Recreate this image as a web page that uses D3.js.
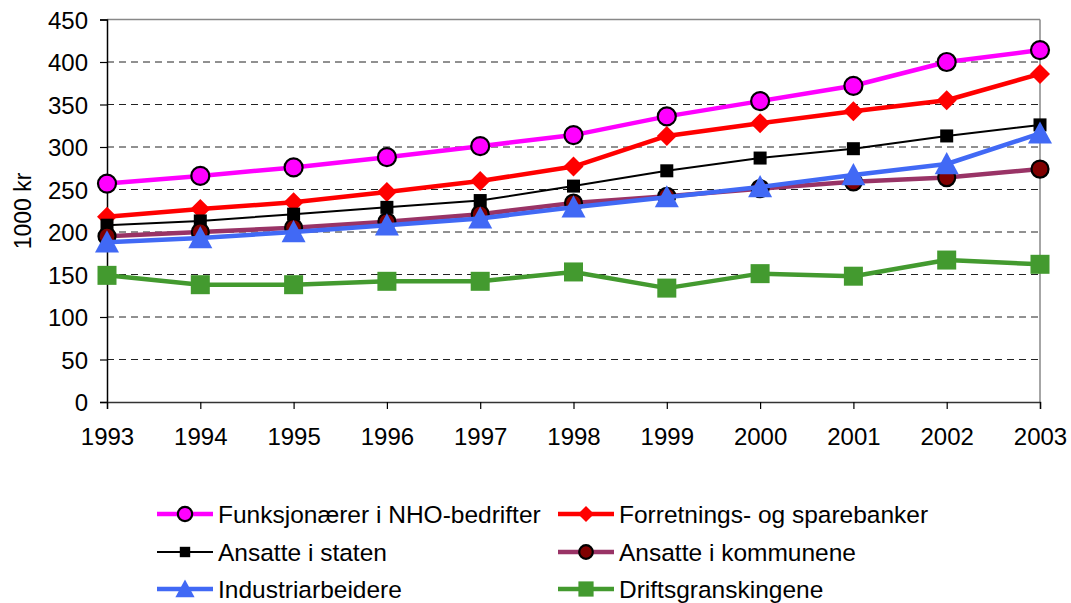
<!DOCTYPE html>
<html><head><meta charset="utf-8">
<script src="https://cdn.jsdelivr.net/npm/d3@7"></script>
<style>body{margin:0;background:#fff}svg{display:block}text{font-family:"Liberation Sans",Arial,sans-serif;fill:#000}</style>
</head><body><svg id="c" width="1071" height="603"></svg>
<script>
const years = [1993,1994,1995,1996,1997,1998,1999,2000,2001,2002,2003];
const yTicks = [0,50,100,150,200,250,300,350,400,450];
const seriesNames = ["Funksjonærer i NHO-bedrifter","Forretnings- og sparebanker","Ansatte i staten","Ansatte i kommunene","Industriarbeidere","Driftsgranskingene"];
const nho      = [257,266,276,288,301,314,336,354,372,400,414];
const banker   = [218,227,235,247,260,277,313,328,342,355,386];
const staten   = [208,213,221,229,237,254,272,287,298,313,326];
const kommunene= [195,200,205,212,221,234,242,251,259,264,274];
const industri = [188,193,200,208,216,229,241,253,267,280,316];
const drift    = [149,138,138,142,142,153,134,151,148,167,162];
const yLabel = "1000 kr";

const styles = [
  {data:nho, color:"#FF00FF", width:4.5, marker:"circle", mfill:"#FF00FF", mstroke:"#000", size:9},
  {data:banker, color:"#FF0000", width:4.5, marker:"diamond", mfill:"#FF0000", mstroke:"none", size:10},
  {data:staten, color:"#000000", width:2, marker:"square", mfill:"#000", mstroke:"none", size:6.5},
  {data:kommunene, color:"#993366", width:4.5, marker:"circle", mfill:"#800000", mstroke:"#000", size:8.5},
  {data:industri, color:"#4169F5", width:4.5, marker:"triangle", mfill:"#4169F5", mstroke:"none", size:12},
  {data:drift, color:"#439A2F", width:4.5, marker:"square", mfill:"#439A2F", mstroke:"none", size:9.5}
];

const svg = d3.select("#c");
svg.append("rect").attr("width",1071).attr("height",603).attr("fill","#fff");
const L=107, R=1040, T=19.5, B=402;
const x = d3.scalePoint().domain(years).range([L,R]);
const y = d3.scaleLinear().domain([0,450]).range([B,T]);

// gridlines
svg.append("g").selectAll("line").data(yTicks.filter(v=>v>0&&v<450)).join("line")
  .attr("x1",L).attr("x2",R).attr("y1",d=>y(d)).attr("y2",d=>y(d))
  .attr("stroke","#222").attr("stroke-width",1).attr("stroke-dasharray","7,5");
// top & right border
svg.append("line").attr("x1",L).attr("x2",R).attr("y1",T).attr("y2",T).attr("stroke","#888").attr("stroke-width",1.5);
svg.append("line").attr("x1",R).attr("x2",R).attr("y1",T).attr("y2",B).attr("stroke","#888").attr("stroke-width",1.5);

// axes
const ya = svg.append("g").attr("transform",`translate(${L},0)`)
  .call(d3.axisLeft(y).tickValues(yTicks).tickSize(7).tickPadding(12));
const xa = svg.append("g").attr("transform",`translate(0,${B})`)
  .call(d3.axisBottom(x).tickValues(years).tickFormat(d3.format("d")).tickSize(7).tickPadding(19));
[ya,xa].forEach(a=>{
  a.selectAll("path").attr("stroke","#000").attr("stroke-width",1.5);
  a.selectAll("line").attr("stroke","#000").attr("stroke-width",1.2);
  a.selectAll("text").style("font-size","24px").attr("fill","#000");
});
xa.select("path").attr("stroke","#333");
ya.selectAll("text").attr("dy","0.36em");

svg.append("text").attr("transform","translate(23,211) rotate(-90)")
  .attr("text-anchor","middle").attr("dy","0.36em").style("font-size","23px").text(yLabel);

function drawMarker(g, s, cx, cy){
  const k = s.size;
  if(s.marker==="circle"){
    g.append("circle").attr("cx",cx).attr("cy",cy).attr("r",k)
      .attr("fill",s.mfill).attr("stroke",s.mstroke).attr("stroke-width",2.2);
  } else if(s.marker==="square"){
    g.append("rect").attr("x",cx-k).attr("y",cy-k).attr("width",2*k).attr("height",2*k)
      .attr("fill",s.mfill);
  } else if(s.marker==="diamond"){
    g.append("path").attr("d",`M${cx},${cy-k}L${cx+k},${cy}L${cx},${cy+k}L${cx-k},${cy}Z`).attr("fill",s.mfill);
  } else if(s.marker==="triangle"){
    g.append("path").attr("d",`M${cx},${cy-k}L${cx+k},${cy+k*0.85}L${cx-k},${cy+k*0.85}Z`).attr("fill",s.mfill);
  }
}

const line = d3.line().x((d,i)=>x(years[i])).y(d=>y(d));
styles.forEach(s=>{
  const g = svg.append("g");
  g.append("path").datum(s.data).attr("d",line).attr("fill","none")
    .attr("stroke",s.color).attr("stroke-width",s.width).attr("stroke-linejoin","round");
  s.data.forEach((v,i)=>drawMarker(g,s,x(years[i]),y(v)));
});

// legend
const colX=[157,558], rowY=[514,552,589];
styles.forEach((s,i)=>{
  const gx = colX[i%2], gy = rowY[Math.floor(i/2)];
  const g = svg.append("g");
  g.append("line").attr("x1",gx).attr("x2",gx+56).attr("y1",gy).attr("y2",gy)
    .attr("stroke",s.color).attr("stroke-width",s.width);
  drawMarker(g, Object.assign({},s,{size:s.size*0.8}), gx+28, gy);
  g.append("text").attr("x",gx+61).attr("y",gy).attr("dy","0.36em").style("font-size","24.5px").text(seriesNames[i]);
});
</script></body></html>
